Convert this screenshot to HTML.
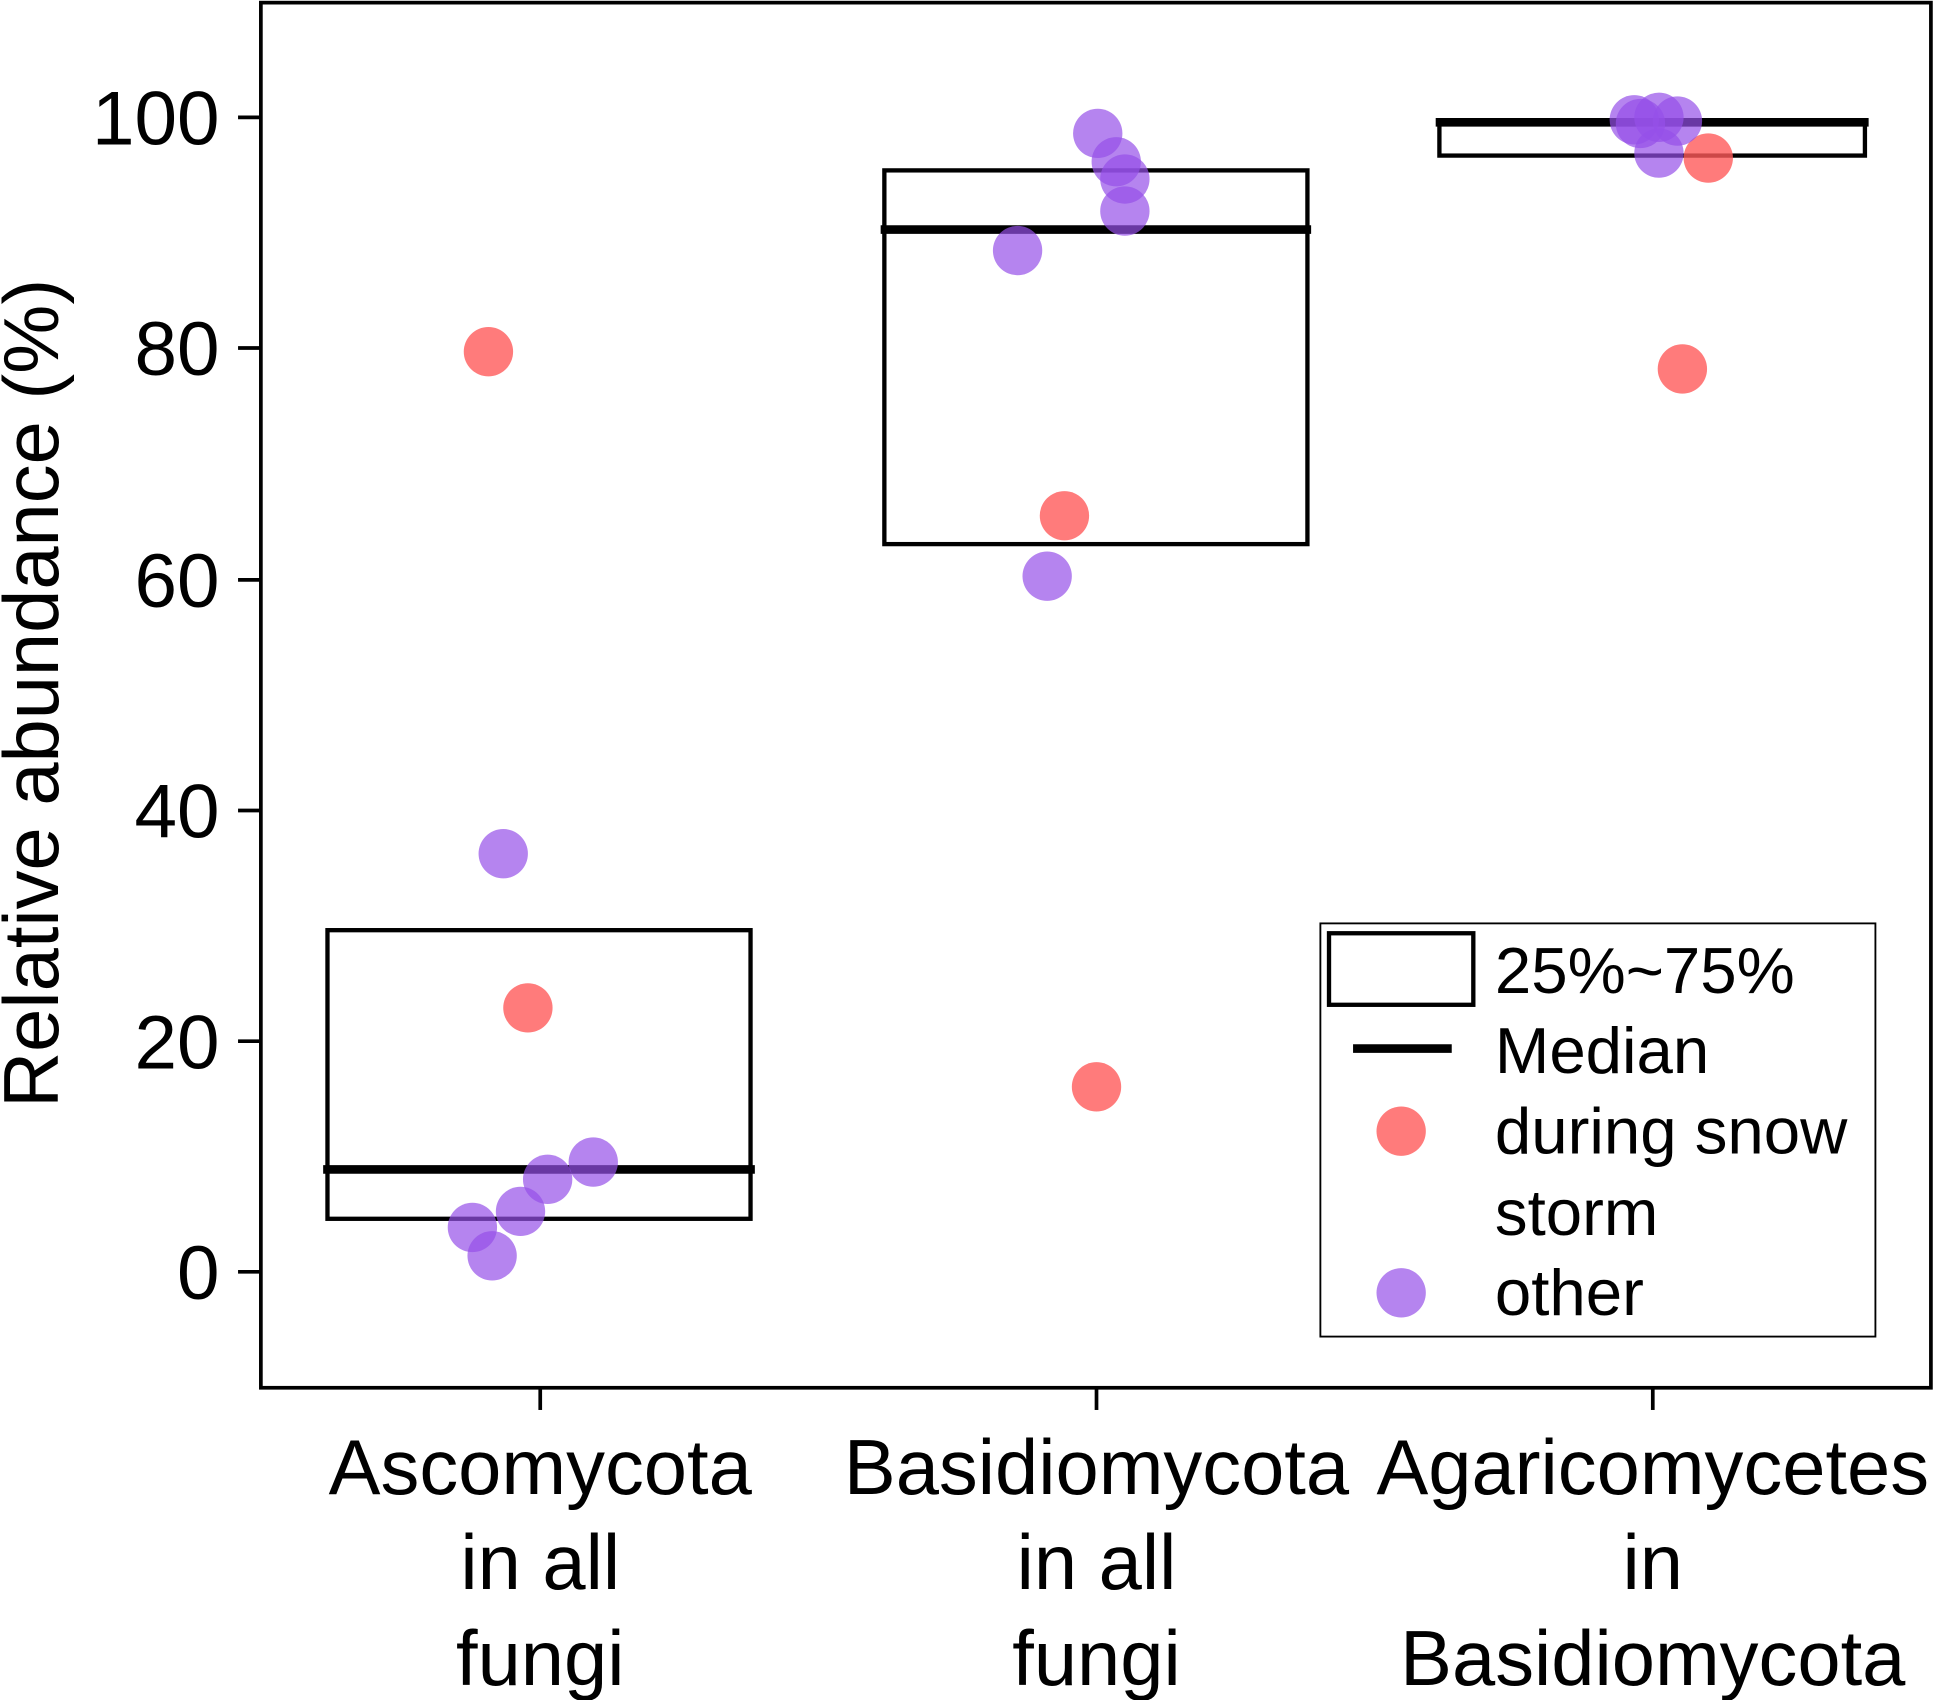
<!DOCTYPE html>
<html><head><meta charset="utf-8"><style>html,body{margin:0;padding:0;background:#fff}svg{display:block}</style></head>
<body>
<svg width="1934" height="1700" viewBox="0 0 1568 1378" xmlns="http://www.w3.org/2000/svg" font-family="Liberation Sans, Arial, sans-serif">
<rect x="0" y="0" width="1568" height="1378" fill="#fff"/>
<rect x="211.5" y="2" width="1354" height="1123" fill="none" stroke="#000" stroke-width="3"/>
<g stroke="#000" stroke-width="3">
<line x1="193" y1="95" x2="211" y2="95"/><line x1="193" y1="282" x2="211" y2="282"/><line x1="193" y1="470" x2="211" y2="470"/><line x1="193" y1="657" x2="211" y2="657"/><line x1="193" y1="844" x2="211" y2="844"/><line x1="193" y1="1031" x2="211" y2="1031"/>
<line x1="438" y1="1125" x2="438" y2="1143"/><line x1="889" y1="1125" x2="889" y2="1143"/><line x1="1340" y1="1125" x2="1340" y2="1143"/>
</g>
<g font-size="62" text-anchor="end" fill="#000">
<text x="178" y="117">100</text><text x="178" y="304">80</text><text x="178" y="492">60</text><text x="178" y="679">40</text><text x="178" y="866">20</text><text x="178" y="1053">0</text>
</g>
<text transform="translate(47,562) rotate(-90)" font-size="63" text-anchor="middle">Relative abundance (%)</text>
<g font-size="63" text-anchor="middle">
<text x="438" y="1211">Ascomycota</text><text x="438" y="1288">in all</text><text x="438" y="1366">fungi</text>
<text x="889" y="1211">Basidiomycota</text><text x="889" y="1288">in all</text><text x="889" y="1366">fungi</text>
<text x="1340" y="1211">Agaricomycetes</text><text x="1340" y="1288">in</text><text x="1340" y="1366">Basidiomycota</text>
</g>
<g fill="none" stroke="#000" stroke-width="3.5">
<rect x="265.5" y="754" width="343" height="234"/>
<rect x="717" y="138" width="343" height="303"/>
<rect x="1167" y="98" width="345" height="28"/>
</g>
<g stroke="#000" stroke-width="7">
<line x1="262" y1="948" x2="612" y2="948"/>
<line x1="714" y1="186" x2="1063" y2="186"/>
<line x1="1164" y1="99" x2="1515" y2="99"/>
</g>
<g fill="#ff5a5a" fill-opacity="0.8">
<circle cx="396" cy="285" r="20"/><circle cx="428" cy="817" r="20"/><circle cx="863" cy="418" r="20"/><circle cx="889" cy="881" r="20"/><circle cx="1385" cy="128" r="20"/><circle cx="1364" cy="299" r="20"/>
</g>
<g fill="#9650e8" fill-opacity="0.7">
<circle cx="408" cy="692" r="20"/><circle cx="481" cy="942" r="20"/><circle cx="444" cy="956" r="20"/><circle cx="422" cy="982" r="20"/><circle cx="383" cy="995" r="20"/><circle cx="399" cy="1018" r="20"/>
<circle cx="890" cy="108" r="20"/><circle cx="905" cy="131" r="20"/><circle cx="912" cy="145" r="20"/><circle cx="912" cy="171" r="20"/><circle cx="825" cy="203" r="20"/><circle cx="849" cy="467" r="20"/>
<circle cx="1325" cy="97" r="20"/><circle cx="1345" cy="95" r="20"/><circle cx="1360" cy="98" r="20"/><circle cx="1330" cy="100" r="20"/><circle cx="1345" cy="124" r="20"/>
</g>
<rect x="1070.5" y="748.5" width="450" height="335" fill="#fff" stroke="#000" stroke-width="1.5"/>
<rect x="1077.5" y="756.5" width="117" height="58" fill="none" stroke="#000" stroke-width="3.5"/>
<line x1="1097" y1="850" x2="1177" y2="850" stroke="#000" stroke-width="7"/>
<circle cx="1136" cy="917" r="20" fill="#ff5a5a" fill-opacity="0.8"/>
<circle cx="1136" cy="1048" r="20" fill="#9650e8" fill-opacity="0.7"/>
<g font-size="53">
<text x="1212" y="805">25%~75%</text><text x="1212" y="870">Median</text><text x="1212" y="935">during snow</text><text x="1212" y="1001">storm</text><text x="1212" y="1066">other</text>
</g>
</svg>
</body></html>
